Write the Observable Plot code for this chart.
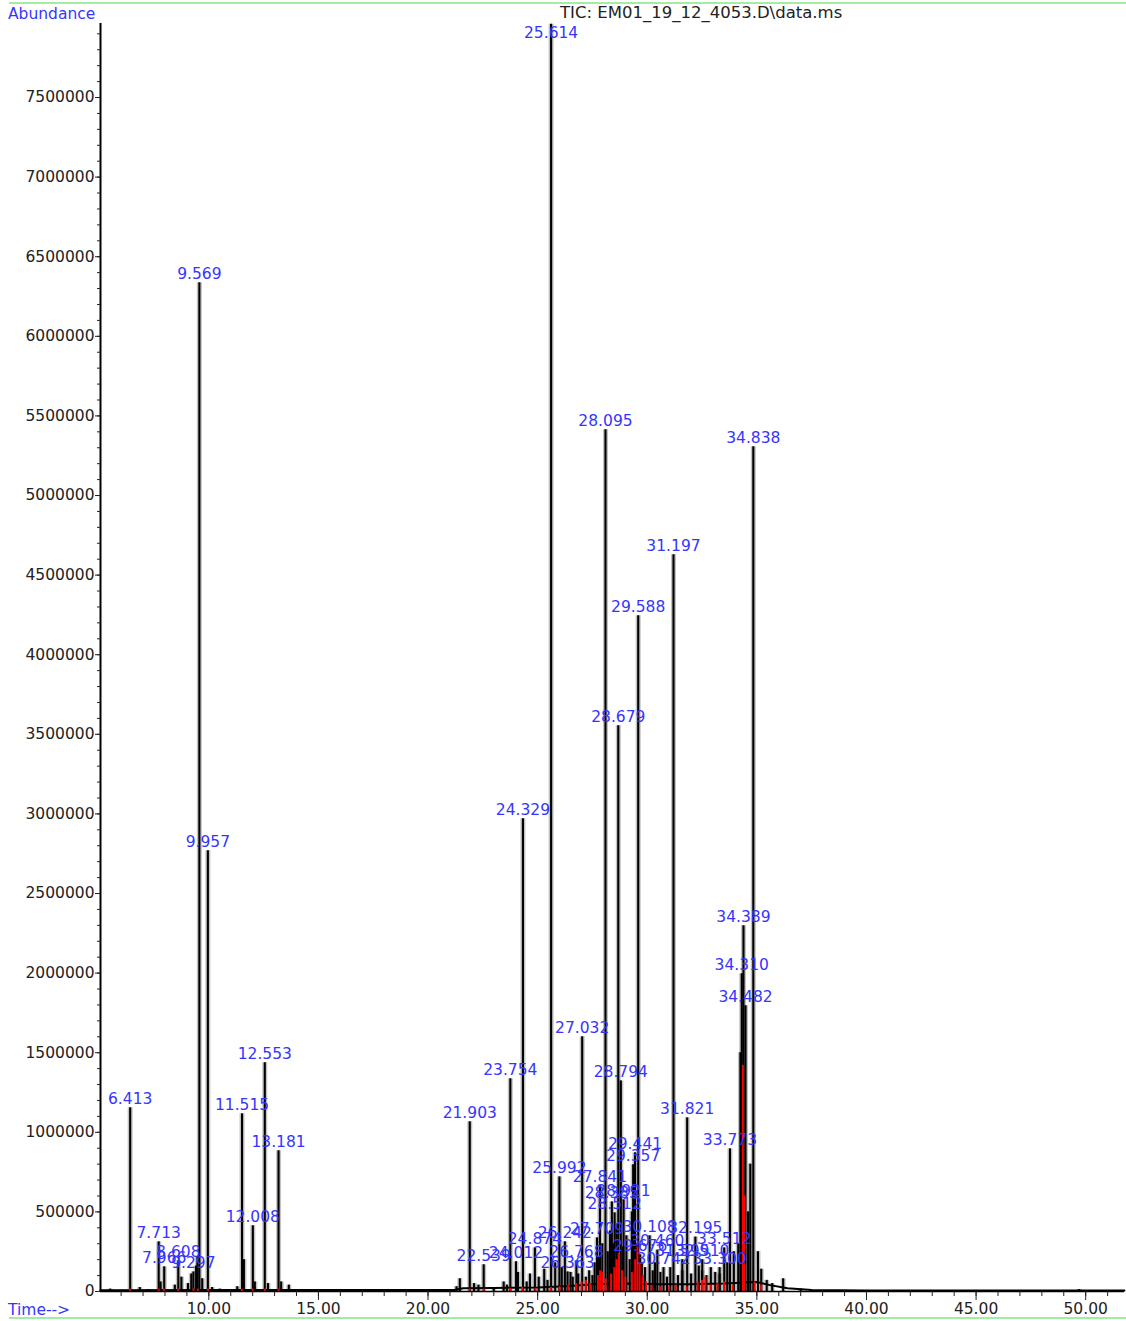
<!DOCTYPE html>
<html>
<head>
<meta charset="utf-8">
<script src="https://cdn.jsdelivr.net/npm/d3@7"></script>
<script src="https://cdn.jsdelivr.net/npm/@observablehq/plot@0.6"></script>
<style>
html, body { margin: 0; padding: 0; background: #fff; }
#wrap { position: relative; width: 1126px; height: 1321px; overflow: hidden; font-family: "DejaVu Sans", sans-serif; }
.green { position: absolute; left: 9px; width: 1117px; height: 2px; background: #a4eca4; }
.blue { position: absolute; font-size: 15.5px; line-height: 18px; color: #3535ff; white-space: nowrap; }
.title { position: absolute; font-size: 16.5px; line-height: 18px; color: #222; white-space: nowrap; }
</style>
</head>
<body>
<div id="wrap">
  <div class="green" style="top:2px"></div>
  <div class="green" style="top:1317px"></div>
  <div class="blue" style="left:8px; top:5px">Abundance</div>
  <div class="blue" style="left:8px; top:1301px">Time--&gt;</div>
  <div class="title" style="left:560px; top:4px">TIC: EM01_19_12_4053.D\data.ms</div>
</div>
<script>
// Labelled peaks: retention time label (min) and apex abundance
const peakLabels = ["6.413","7.713","7.966","8.608","9.297","9.569","9.957","11.515","12.008","12.553","13.181",
  "21.903","22.539","23.754","24.012","24.329","24.874","25.614","25.992","26.242","26.363","26.768",
  "27.032","27.709","27.841","28.095","28.385","28.512","28.679","28.794","28.921","29.357","29.441",
  "29.588","29.676","30.108","30.460","30.742","31.197","31.599","31.821","32.195","32.510","33.300",
  "33.512","33.773","34.310","34.389","34.482","34.838"];
const peakAbundance = [1154000, 312000, 155000, 193000, 123000, 6336000, 2768000, 1116000, 413000, 1437000, 884000,
  1066000, 168000, 1336000, 187000, 2969000, 274000, 7960000, 720000, 312000, 123000, 193000,
  1600000, 337000, 664000, 5413000, 563000, 494000, 3554000, 1323000, 576000, 796000, 871000,
  4244000, 230000, 350000, 260000, 150000, 4628000, 200000, 1091000, 342000, 200000, 150000,
  274000, 896000, 1996000, 2297000, 1795000, 5306000];

// Unlabelled small peaks of the TIC trace
const minorRT = [5.5, 6.85, 7.25, 7.8, 8.45, 8.75, 9.05, 9.2, 9.42, 9.48, 9.7, 10.15, 10.5, 11.3, 11.6, 12.1, 12.7, 13.3, 13.65, 14.2, 16.5, 19.5,
  21.3, 21.45, 22.1, 22.3, 23.0, 23.45, 23.6, 24.1, 24.5, 24.65, 25.05, 25.3, 25.45, 25.8, 26.1, 26.5, 26.6, 26.85,
  27.2, 27.35, 27.5, 27.6, 27.75, 27.95, 28.2, 28.3, 28.45, 28.6, 28.9, 29.05, 29.2, 29.3, 29.5, 29.75, 29.9,
  30.25, 30.35, 30.6, 30.9, 31.05, 31.4, 31.6, 32.0, 32.35, 32.5, 32.7, 32.9, 33.1, 33.3, 33.65, 33.95, 34.15,
  34.25, 34.6, 34.7, 35.05, 35.2, 35.45, 35.7, 36.2, 37.0, 39.0, 43.5, 49.7];
const minorAbundance = [15000, 25000, 12000, 60000, 40000, 90000, 50000, 110000, 160000, 220000, 80000, 25000, 15000, 30000, 200000, 60000, 50000, 60000, 40000, 12000, 6000, 6000,
  30000, 80000, 50000, 40000, 25000, 60000, 40000, 120000, 60000, 110000, 90000, 140000, 70000, 180000, 150000, 120000, 90000, 110000,
  90000, 130000, 100000, 180000, 220000, 300000, 250000, 380000, 300000, 420000, 280000, 350000, 200000, 500000, 300000, 180000, 150000,
  130000, 180000, 120000, 90000, 150000, 100000, 130000, 110000, 160000, 130000, 100000, 150000, 120000, 110000, 180000, 250000, 300000,
  1500000, 500000, 800000, 250000, 140000, 70000, 50000, 80000, 15000, 6000, 5000, 12000];

// Baseline of the TIC trace
const baseRT = [5.06, 10, 15, 21.2, 21.6, 23, 25, 26.5, 27.5, 29, 30.5, 32, 33.5, 35, 35.6, 36.4, 37.5, 40, 45, 51.77];
const baseAbundance = [8000, 9000, 9000, 10000, 20000, 22000, 25000, 35000, 45000, 50000, 45000, 45000, 50000, 60000, 40000, 20000, 10000, 7000, 6000, 6000];

// Red overlay trace
const redRT = [6.41, 7.71, 7.95, 8.6, 9.3, 9.5, 9.96, 11.5, 12.0, 12.55, 13.18, 21.9, 22.55,
  23.75, 24.3, 24.9, 25.6, 26.0, 26.4, 26.75, 27.0, 27.2, 27.4, 27.75, 27.85, 27.95, 28.1, 28.35, 28.5, 28.6, 28.7, 28.85,
  29.0, 29.3, 29.45, 29.55, 29.65, 29.8, 29.95, 30.2, 30.6, 31.0, 31.3, 31.8, 32.3, 32.5, 32.65, 32.9, 33.2, 33.5, 33.9,
  34.36, 34.42, 34.9, 35.2];
const redAbundance = [15000, 15000, 15000, 15000, 15000, 15000, 15000, 15000, 15000, 15000, 15000, 15000, 15000,
  20000, 25000, 20000, 25000, 30000, 40000, 50000, 60000, 70000, 50000, 100000, 130000, 120000, 80000, 110000, 150000, 200000, 240000, 130000,
  90000, 120000, 200000, 280000, 180000, 100000, 60000, 40000, 30000, 30000, 40000, 30000, 60000, 70000, 90000, 40000, 50000, 60000, 40000,
  1420000, 600000, 60000, 40000];

// Axis ticks
const xMajorTicks = [10, 15, 20, 25, 30, 35, 40, 45, 50];
const xMinorTicks = d3.range(6, 52, 1);
const yMajorTicks = d3.range(0, 7500001, 500000);
const yMinorTicks = d3.range(0, 7900001, 100000);

const peaks = peakLabels.map((l, i) => ({t: +l, h: peakAbundance[i], label: l}));
const minor = minorRT.map((t, i) => ({t, h: minorAbundance[i]}));
const allPeaks = peaks.concat(minor);
const base = baseRT.map((t, i) => ({t, h: baseAbundance[i]}));
const red = redRT.map((t, i) => ({t, h: redAbundance[i]}));

const X0 = 5.059, X1 = 51.77, YMAX = 7965000;

const chart = Plot.plot({
  width: 1126,
  height: 1321,
  marginLeft: 100,
  marginRight: 2,
  marginTop: 23,
  marginBottom: 30,
  x: {domain: [X0, X1]},
  y: {domain: [0, YMAX]},
  style: {fontFamily: "DejaVu Sans, sans-serif", fontSize: "15.5px", background: "transparent", color: "#222"},
  marks: [
    Plot.ruleX(allPeaks, {x: "t", y1: 0, y2: "h", stroke: "#9a9a9a", strokeWidth: 5, strokeOpacity: 0.6}),
    Plot.ruleX(allPeaks, {x: "t", y1: 0, y2: "h", stroke: "#000", strokeWidth: 2.1}),
    Plot.line(base, {x: "t", y: "h", stroke: "#000", strokeWidth: 2}),
    Plot.ruleX(red, {x: "t", y1: 0, y2: "h", stroke: "#ff0000", strokeWidth: 2}),
    Plot.ruleX([X0], {stroke: "#000", strokeWidth: 2}),
    Plot.ruleY([0], {stroke: "#000", strokeWidth: 1.5}),
    Plot.axisY({ticks: yMinorTicks, tickSize: 3, tickFormat: () => "", label: null}),
    Plot.axisY({ticks: yMajorTicks, tickSize: 5, tickPadding: 1, tickFormat: d => String(d), label: null, fontSize: 15.5}),
    Plot.axisX({ticks: xMinorTicks, tickSize: 5, tickFormat: () => "", label: null}),
    Plot.axisX({ticks: xMajorTicks, tickSize: 9, tickPadding: 2, tickFormat: d => d.toFixed(2), label: null, fontSize: 15.5}),
    Plot.text(peaks, {x: "t", y: d => Math.min(d.h, 7850000), text: "label", dy: -9, fill: "#3535ff", fontSize: 15.5, textAnchor: "middle", lineAnchor: "middle"})
  ]
});
chart.style.position = "absolute";
chart.style.left = "0px";
chart.style.top = "0px";
document.getElementById("wrap").appendChild(chart);
</script>
</body>
</html>
